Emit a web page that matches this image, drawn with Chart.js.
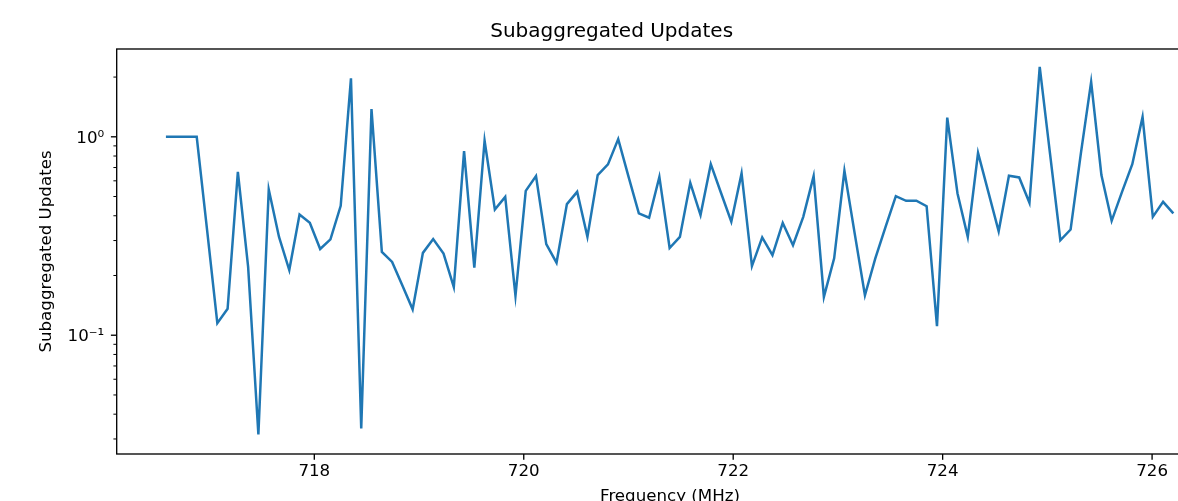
<!DOCTYPE html>
<html><head><meta charset="utf-8">
<script src="https://cdn.jsdelivr.net/npm/chart.js@4"></script>
<style>
html,body{margin:0;padding:0;background:#fff;overflow:hidden;width:1178px;height:501px;}
#wrap{position:absolute;left:0;top:0;width:1340px;height:520px;}
</style></head><body>
<div id="wrap"><canvas id="c" width="1340" height="520"></canvas></div>
<script>
const freqs = [716.583,716.681,716.779,716.877,716.976,717.074,717.172,717.270,717.368,717.466,
717.565,717.663,717.761,717.859,717.957,718.056,718.154,718.252,718.350,718.448,
718.546,718.645,718.743,718.841,718.939,719.037,719.135,719.234,719.332,719.430,
719.528,719.626,719.724,719.823,719.921,720.019,720.117,720.215,720.313,720.412,
720.510,720.608,720.706,720.804,720.902,721.001,721.099,721.197,721.295,721.393,
721.491,721.590,721.688,721.786,721.884,721.982,722.080,722.179,722.277,722.375,
722.473,722.571,722.669,722.768,722.866,722.964,723.062,723.160,723.258,723.357,
723.455,723.553,723.651,723.749,723.847,723.946,724.044,724.142,724.240,724.338,
724.436,724.535,724.633,724.731,724.829,724.927,725.025,725.124,725.222,725.320,
725.418,725.516,725.614,725.713,725.811,725.909,726.007,726.105,726.203];
const updates = [1.0,1.0,1.0,1.0,0.34,0.115,0.136,0.666,0.221,0.0316,
0.543,0.313,0.213,0.406,0.369,0.272,0.304,0.449,1.97,0.0339,
1.38,0.263,0.234,0.178,0.135,0.260,0.305,0.258,0.175,0.847,
0.219,0.955,0.430,0.498,0.158,0.534,0.634,0.288,0.232,0.458,
0.528,0.313,0.641,0.726,0.974,0.628,0.411,0.391,0.628,0.275,
0.313,0.586,0.403,0.728,0.521,0.373,0.654,0.223,0.311,0.253,
0.368,0.284,0.395,0.634,0.156,0.244,0.674,0.326,0.159,0.244,
0.352,0.502,0.476,0.476,0.447,0.111,1.25,0.518,0.313,0.830,
0.528,0.334,0.636,0.624,0.465,2.25,0.825,0.301,0.341,0.825,
1.89,0.641,0.377,0.528,0.728,1.26,0.395,0.470,0.411];
const xTicks = [718,720,722,724,726];
const yMajorTicks = [0.1,1];
const yMinorTicks = [0.03,0.04,0.05,0.06,0.07,0.08,0.09,0.2,0.3,0.4,0.5,0.6,0.7,0.8,0.9,2];
const yTickLabels = {'1':'10\u2070','0.1':'10\u207B\u00B9'};

const FONT = 'DejaVu Sans';
const framePlugin = {
  id:'frame',
  afterDraw(chart){
    const {ctx, chartArea:a, scales:{x,y}} = chart;
    ctx.save();
    ctx.strokeStyle = '#000';
    const seg = (x1,y1,x2,y2)=>{ctx.beginPath();ctx.moveTo(x1,y1);ctx.lineTo(x2,y2);ctx.stroke();};
    ctx.lineWidth = 1.33;
    xTicks.forEach(v=>{const p=x.getPixelForValue(v); seg(p,a.bottom,p,a.bottom+5.8);});
    yMajorTicks.forEach(v=>{const p=y.getPixelForValue(v); seg(a.left,p,a.left-5.8,p);});
    ctx.lineWidth = 1.0;
    yMinorTicks.forEach(v=>{const p=y.getPixelForValue(v); seg(a.left,p,a.left-3.3,p);});
    ctx.lineWidth = 1.33;
    ctx.strokeRect(a.left, a.top, a.right-a.left, a.bottom-a.top);
    ctx.restore();
  }
};

new Chart(document.getElementById('c'), {
  type:'line',
  data:{datasets:[{
    data: freqs.map((f,i)=>({x:f,y:updates[i]})),
    borderColor:'#1f77b4', borderWidth:2.5, pointRadius:0, tension:0, fill:false
  }]},
  options:{
    responsive:false, animation:false, devicePixelRatio:1,
    layout:{padding:{left:0,right:116.7,top:0,bottom:0}},
    plugins:{
      legend:{display:false}, tooltip:{enabled:false},
      title:{display:true, text:'Subaggregated Updates', color:'#000',
        font:{family:FONT,size:20,weight:'normal'}, padding:{top:19.6,bottom:5.4}}
    },
    scales:{
      x:{type:'linear', min:716.113, max:726.68,
        grid:{display:false, drawTicks:false}, border:{display:false},
        afterBuildTicks:(s)=>{s.ticks = xTicks.map(v=>({value:v}));},
        afterFit:(s)=>{s.height = 66;},
        ticks:{color:'#000', font:{family:FONT,size:16.67}, padding:7.2, autoSkip:false, maxRotation:0,
          callback:(v)=>String(v)},
        title:{display:true, text:'Frequency (MHz)', color:'#000', font:{family:FONT,size:16.67},
          padding:{top:0,bottom:13.8}}
      },
      y:{type:'logarithmic', min:0.0252, max:2.77,
        grid:{display:false, drawTicks:false}, border:{display:false},
        afterBuildTicks:(s)=>{s.ticks = yMinorTicks.concat(yMajorTicks).sort((a,b)=>a-b).map(v=>({value:v}));},
        afterFit:(s)=>{s.width = 116.7;},
        ticks:{color:'#000', font:{family:FONT,size:16.67}, padding:12.5, labelOffset:1.5, autoSkip:false,
          callback:(v)=>yTickLabels[String(v)] || ''},
        title:{display:true, text:'Subaggregated Updates', color:'#000', font:{family:FONT,size:16.67},
          padding:{top:36.4,bottom:0}}
      }
    }
  },
  plugins:[framePlugin]
});
</script>
</body></html>
